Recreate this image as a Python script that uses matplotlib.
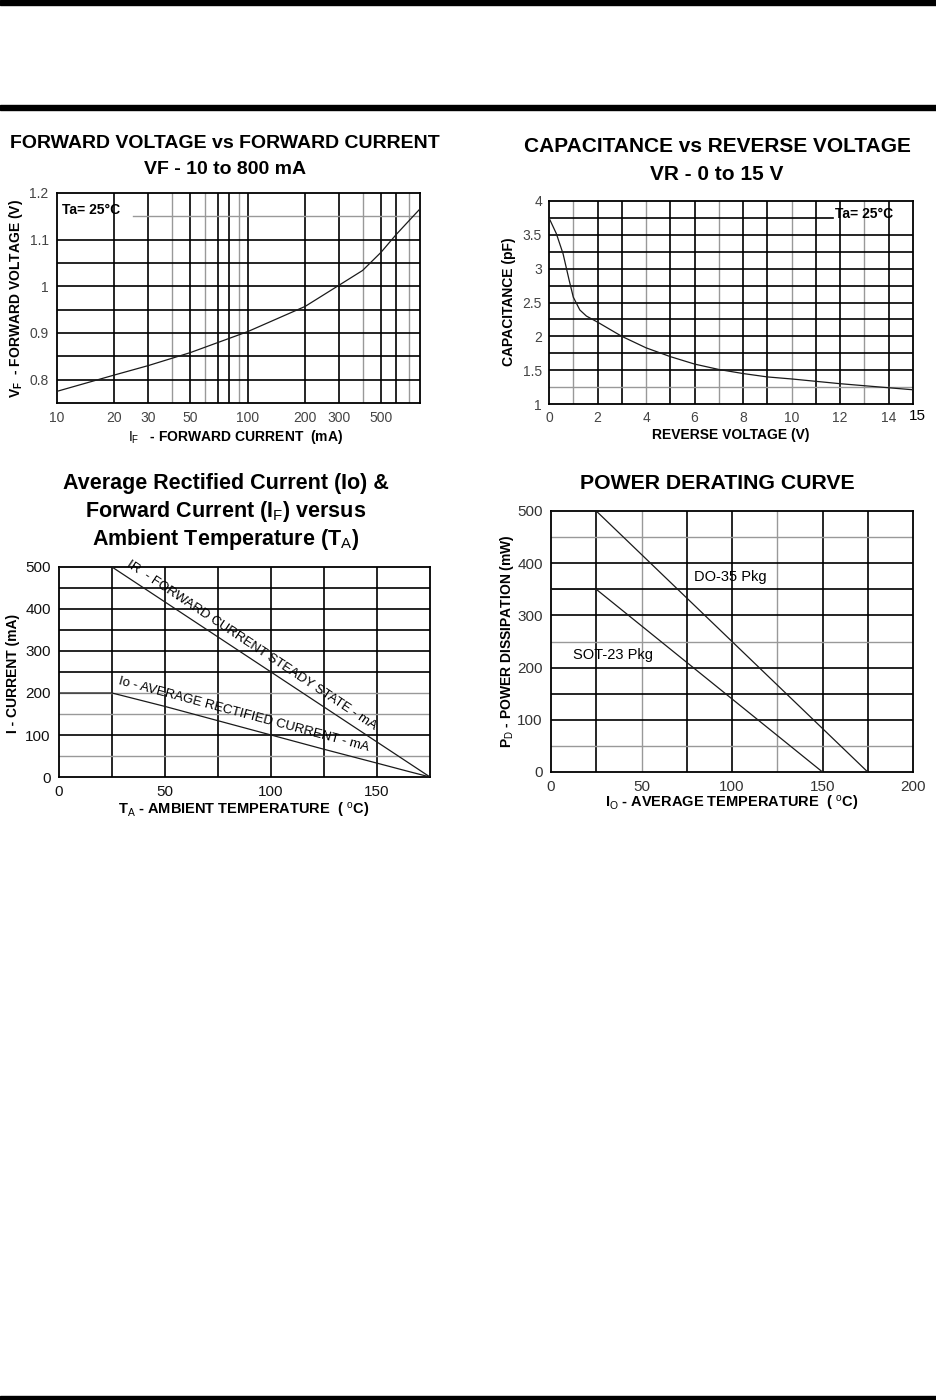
import numpy as np
import matplotlib
matplotlib.use("Agg")
import matplotlib.pyplot as plt
from matplotlib.patches import Rectangle

plt.rcParams['font.family'] = ['Liberation Sans', 'DejaVu Sans']
plt.rcParams['mathtext.fontset'] = 'custom'
plt.rcParams['mathtext.rm'] = 'Liberation Sans'
plt.rcParams['mathtext.bf'] = 'Liberation Sans:bold'
plt.rcParams['mathtext.it'] = 'Liberation Sans:italic'

W, H = 936, 1400

# forward voltage vs forward current (log x)
if_ma = [10, 20, 30, 50, 100, 200, 300, 400, 500, 600, 800]
vf_v = [0.775, 0.810, 0.830, 0.858, 0.903, 0.957, 1.002, 1.034, 1.073, 1.111, 1.166]
vf_xticks = [10, 20, 30, 50, 100, 200, 300, 500]
vf_yticks = [0.8, 0.9, 1, 1.1, 1.2]

# capacitance vs reverse voltage
vr_v = [0, 0.3, 0.58, 0.83, 1.0, 1.27, 1.54, 2, 3, 4, 5, 6, 7, 8, 9, 10, 12, 14, 15]
cap_pf = [3.75, 3.52, 3.22, 2.83, 2.58, 2.39, 2.30, 2.21, 2.0, 1.83, 1.70, 1.59,
          1.51, 1.45, 1.40, 1.37, 1.30, 1.24, 1.21]
cap_xticks = [0, 2, 4, 6, 8, 10, 12, 14]
cap_yticks = [1, 1.5, 2, 2.5, 3, 3.5, 4]

# currents vs ambient temperature
ta_if = [0, 25, 175]
if_steady = [500, 500, 0]
ta_io = [0, 25, 50, 75, 100, 125, 150, 165, 175]
io_avg = [200, 200, 168, 134, 100, 66, 33, 13, 0]

# power derating
t_do35 = [0, 25, 175]
p_do35 = [500, 500, 0]
t_sot23 = [0, 25, 150]
p_sot23 = [350, 350, 0]

BLK = '#000000'
GRY = '#999999'
LINE = '#1a1a1a'

fig = plt.figure(figsize=(W / 100, H / 100), dpi=100)


def px_axes(l, t, r, b):
    return fig.add_axes([l / W, 1 - b / H, (r - l) / W, (b - t) / H])


def ftext(x, y, s, **kw):
    fig.text(x / W, 1 - y / H, s, **kw)


def grid(ax, xs, ys, grey_x=(), grey_y=()):
    for x in xs:
        ax.axvline(x, color=GRY if x in grey_x else BLK,
                   lw=1.0 if x in grey_x else 1.2, zorder=1)
    for y in ys:
        ax.axhline(y, color=GRY if y in grey_y else BLK,
                   lw=1.0 if y in grey_y else 1.2, zorder=1)


def style(ax, color, size, pad):
    for s in ax.spines.values():
        s.set_linewidth(1.3)
        s.set_color(BLK)
    ax.tick_params(length=0, labelsize=size, labelcolor=color, pad=pad)


# page bars
for y0, h in [(0, 5), (105, 5), (1396, 4)]:
    fig.add_artist(Rectangle((0, 1 - (y0 + h) / H), 1, h / H,
                             transform=fig.transFigure, color='black'))

# ---- top left
ax1 = px_axes(57, 193, 420, 403)
ax1.set_xscale('log')
ax1.set_xlim(10, 800)
ax1.set_ylim(0.75, 1.2)
grid(ax1, [20, 30, 40, 50, 60, 70, 80, 90, 100, 200, 300, 400, 500, 600, 700],
     [0.8, 0.85, 0.9, 0.95, 1.0, 1.05, 1.1],
     grey_x=(40, 60, 90, 400, 700))
ax1.axhline(1.15, xmin=0.21, color=GRY, lw=1.0, zorder=1)
ax1.plot(if_ma, vf_v, color=LINE, lw=0.9, zorder=3)
ax1.set_xticks(vf_xticks)
ax1.set_xticklabels([str(v) for v in vf_xticks])
ax1.xaxis.set_minor_locator(matplotlib.ticker.NullLocator())
ax1.set_yticks(vf_yticks)
ax1.set_yticklabels(['0.8', '0.9', '1', '1.1', '1.2'])
style(ax1, '#444444', 10, 6)
ax1.text(0.015, 0.92, 'Ta= 25°C', transform=ax1.transAxes, fontsize=10,
         fontweight='bold', va='center', ha='left')
ftext(225, 143, 'FORWARD VOLTAGE vs FORWARD CURRENT', fontsize=14,
      fontweight='bold', ha='center', va='center')
ftext(225, 169, 'VF - 10 to 800 mA', fontsize=14, fontweight='bold',
      ha='center', va='center')
ftext(16, 299, r'$\mathbf{V_F}$  - FORWARD VOLTAGE (V)', fontsize=10,
      fontweight='bold', rotation=90, ha='center', va='center')
ftext(236, 437, r'$\mathrm{I_F}$   - FORWARD CURRENT  (mA)', fontsize=10,
      fontweight='bold', ha='center', va='center')

# ---- top right
ax2 = px_axes(549, 201, 913, 404)
ax2.set_xlim(0, 15)
ax2.set_ylim(1, 4)
grid(ax2, list(range(1, 15)), [1.25, 1.5, 1.75, 2, 2.25, 2.5, 2.75, 3, 3.25, 3.5],
     grey_x=(1, 4, 7, 10, 13), grey_y=(1.25,))
ax2.axhline(3.75, xmax=0.78, color=BLK, lw=1.2, zorder=1)
ax2.plot(vr_v, cap_pf, color=LINE, lw=0.9, zorder=3)
ax2.set_xticks(cap_xticks)
ax2.set_yticks(cap_yticks)
ax2.set_yticklabels(['1', '1.5', '2', '2.5', '3', '3.5', '4'])
style(ax2, '#444444', 10, 5)
ax2.text(0.785, 0.935, 'Ta= 25°C', transform=ax2.transAxes, fontsize=10,
         fontweight='bold', va='center', ha='left')
ftext(917, 416, '15', fontsize=11, ha='center', va='center')
ftext(717, 146, 'CAPACITANCE vs REVERSE VOLTAGE', fontsize=15,
      fontweight='bold', ha='center', va='center')
ftext(717, 175, 'VR - 0 to 15 V', fontsize=15, fontweight='bold',
      ha='center', va='center')
ftext(509, 302, 'CAPACITANCE (pF)', fontsize=10, fontweight='bold',
      rotation=90, ha='center', va='center')
ftext(731, 435, 'REVERSE VOLTAGE (V)', fontsize=10, fontweight='bold',
      ha='center', va='center')

# ---- bottom left
ax3 = px_axes(59, 567, 430, 777)
ax3.set_xlim(0, 175)
ax3.set_ylim(0, 500)
grid(ax3, [25, 50, 75, 100, 125, 150],
     [50, 100, 150, 200, 250, 300, 350, 400, 450],
     grey_y=(50, 150, 200))
ax3.plot(ta_if, if_steady, color=LINE, lw=0.9, zorder=3)
ax3.plot(ta_io, io_avg, color=LINE, lw=0.9, zorder=3)
ax3.set_xticks([0, 50, 100, 150])
ax3.set_yticks([0, 100, 200, 300, 400, 500])
style(ax3, '#111111', 11, 6)
ax3.text(91, 314, 'IR  - FORWARD CURRENT STEADY STATE - mA', fontsize=9.5,
         rotation=-33.5, rotation_mode='anchor', ha='center', va='center', zorder=4)
ax3.text(87, 148, 'Io - AVERAGE RECTIFIED CURRENT - mA', fontsize=9.5,
         rotation=-15, rotation_mode='anchor', ha='center', va='center', zorder=4)
ftext(226, 483, 'Average Rectified Current (Io) &', fontsize=15.5,
      fontweight='bold', ha='center', va='center')
ftext(226, 512, r'Forward Current (I$\mathrm{_F}$) versus', fontsize=15.5,
      fontweight='bold', ha='center', va='center')
ftext(226, 540, r'Ambient Temperature (T$\mathrm{_A}$)', fontsize=15.5,
      fontweight='bold', ha='center', va='center')
ftext(13, 673, 'I - CURRENT (mA)', fontsize=10, fontweight='bold',
      rotation=90, ha='center', va='center')
ftext(244, 810, r'T$\mathrm{_A}$ - AMBIENT TEMPERATURE  ( $\mathrm{^o}$C)',
      fontsize=10.5, fontweight='bold', ha='center', va='center')

# ---- bottom right
ax4 = px_axes(551, 511, 913, 772)
ax4.set_xlim(0, 200)
ax4.set_ylim(0, 500)
grid(ax4, [25, 50, 75, 100, 125, 150, 175],
     [50, 100, 150, 200, 250, 300, 350, 400, 450],
     grey_x=(50, 125), grey_y=(50, 250, 450))
ax4.plot(t_do35, p_do35, color=LINE, lw=0.9, zorder=3)
ax4.plot(t_sot23, p_sot23, color=LINE, lw=0.9, zorder=3)
ax4.set_xticks([0, 50, 100, 150, 200])
ax4.set_yticks([0, 100, 200, 300, 400, 500])
style(ax4, '#333333', 11, 6)
ax4.text(79, 373, 'DO-35 Pkg', fontsize=10.5, ha='left', va='center', zorder=4)
ax4.text(12, 224, 'SOT-23 Pkg', fontsize=10.5, ha='left', va='center', zorder=4)
ftext(717, 484, 'POWER DERATING CURVE', fontsize=15.3, fontweight='bold',
      ha='center', va='center')
ftext(507, 641, r'P$\mathrm{_D}$ - POWER DISSIPATION (mW)', fontsize=10,
      fontweight='bold', rotation=90, ha='center', va='center')
ftext(732, 803, r'I$\mathrm{_O}$ - AVERAGE TEMPERATURE  ( $\mathrm{^o}$C)',
      fontsize=10.5, fontweight='bold', ha='center', va='center')

fig.savefig('out.png', dpi=100)
